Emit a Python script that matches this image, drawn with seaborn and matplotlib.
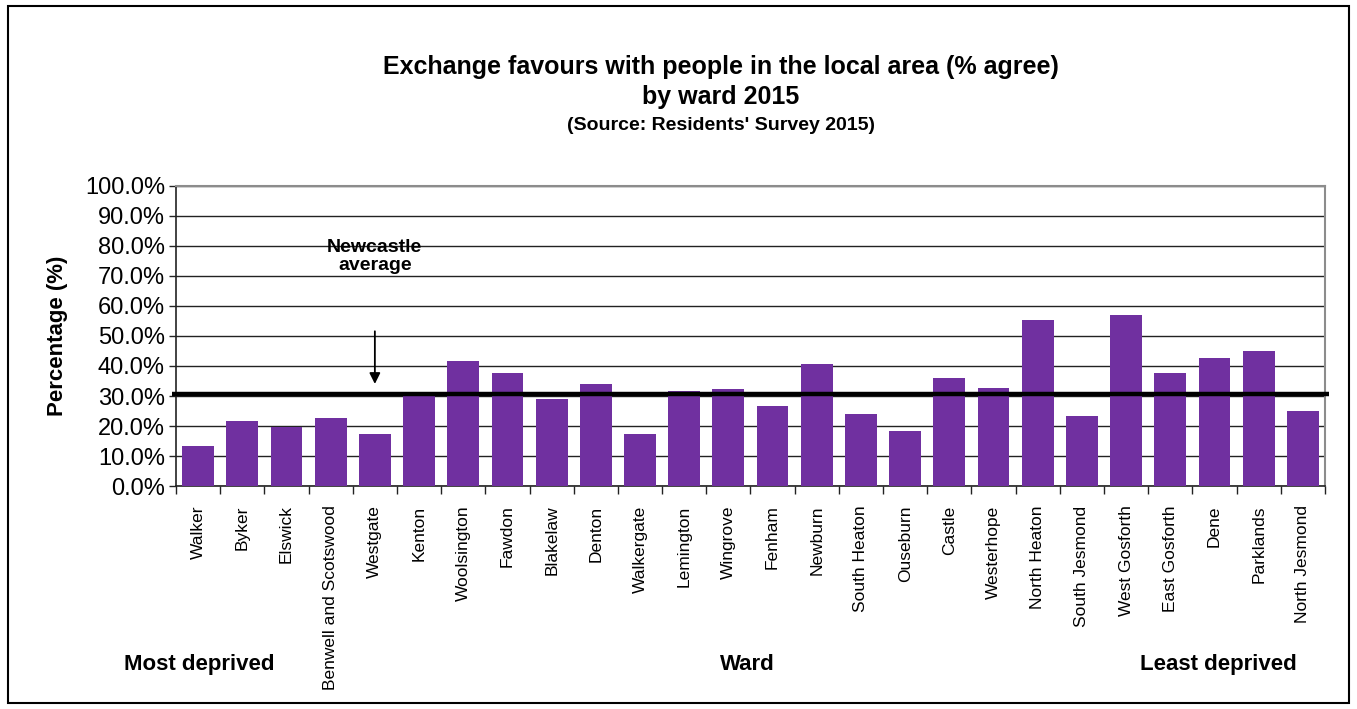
import matplotlib
matplotlib.use("Agg")
import matplotlib.pyplot as plt
import seaborn as sns
import pandas as pd
from matplotlib.ticker import FuncFormatter, MultipleLocator
from matplotlib.patches import Rectangle

wards = ["Walker", "Byker", "Elswick", "Benwell and Scotswood", "Westgate", "Kenton",
         "Woolsington", "Fawdon", "Blakelaw", "Denton", "Walkergate", "Lemington",
         "Wingrove", "Fenham", "Newburn", "South Heaton", "Ouseburn", "Castle",
         "Westerhope", "North Heaton", "South Jesmond", "West Gosforth", "East Gosforth",
         "Dene", "Parklands", "North Jesmond"]
agree_pct = [13.4, 21.7, 19.6, 22.7, 17.3, 30.5, 41.5, 37.6, 29.0, 34.0, 17.3, 31.6,
             32.3, 26.6, 40.8, 24.1, 18.5, 35.9, 32.6, 55.4, 23.4, 57.1, 37.6,
             42.5, 45.1, 24.9]
newcastle_avg = 30.6

df = pd.DataFrame({"Ward": wards, "Agree": agree_pct})

sns.set_theme(style="white")
plt.rcParams["font.family"] = ["Liberation Sans", "DejaVu Sans"]
plt.rcParams.update({"text.color": "black", "axes.labelcolor": "black",
                     "xtick.color": "black", "ytick.color": "black"})

fig = plt.figure(figsize=(13.57, 7.09), dpi=100)
ax = fig.add_axes([0.1297, 0.3145, 0.8467, 0.4232])

sns.barplot(data=df, x="Ward", y="Agree", color="#7030A0", saturation=1,
            width=0.72, linewidth=0, ax=ax, zorder=3)

ax.set_ylim(0, 100)
ax.set_xlim(-0.5, len(wards) - 0.5)
ax.yaxis.set_major_locator(MultipleLocator(10))
ax.yaxis.set_major_formatter(FuncFormatter(lambda v, p: f"{v:.1f}%"))
ax.grid(axis="y", color="#222222", linewidth=1.0, zorder=0)
ax.set_axisbelow(True)

for side in ["top", "right"]:
    ax.spines[side].set_color("#8c8c8c")
    ax.spines[side].set_linewidth(1.5)
for side in ["left", "bottom"]:
    ax.spines[side].set_color("#222222")
    ax.spines[side].set_linewidth(1.2)

ax.tick_params(axis="y", which="major", left=True, length=5, width=1, color="#222222",
               labelsize=17, pad=3, labelcolor="black")
ax.set_xticks(range(len(wards)))
ax.set_xticklabels(wards, rotation=90, fontsize=12.5, va="top", ha="center")
ax.tick_params(axis="x", which="major", bottom=False, pad=8, labelcolor="black")
# boundaries between categories
ax.set_xticks([i - 0.5 for i in range(len(wards) + 1)], minor=True)
ax.tick_params(axis="x", which="minor", bottom=True, length=6, width=1, color="#222222")

ax.set_xlabel("")
ax.set_ylabel("Percentage (%)", fontsize=16, fontweight="bold", labelpad=12,
              color="black")

# Newcastle average
ax.plot([-0.6, len(wards) - 0.4], [newcastle_avg, newcastle_avg], color="black",
        linewidth=3.2, zorder=5, clip_on=False, solid_capstyle="butt")
ax.annotate("", xy=(4.0, newcastle_avg + 2.5), xytext=(4.0, 52.5),
            arrowprops=dict(arrowstyle="-|>", color="black", lw=1.3,
                            mutation_scale=16), zorder=6)
ax.text(4.0, 76.5, "Newcastle\naverage", ha="center", va="center", fontsize=14,
        fontweight="bold", linespacing=1.1, zorder=6, color="black")

fig.text(0.531, 0.905, "Exchange favours with people in the local area (% agree)",
         ha="center", va="center", fontsize=18, fontweight="bold", color="black")
fig.text(0.531, 0.863, "by ward 2015", ha="center", va="center", fontsize=18,
         fontweight="bold", color="black")
fig.text(0.531, 0.823, "(Source: Residents' Survey 2015)", ha="center", va="center",
         fontsize=14, fontweight="bold", color="black")

fig.text(0.147, 0.063, "Most deprived", ha="center", va="center", fontsize=16,
         fontweight="bold", color="black")
fig.text(0.551, 0.063, "Ward", ha="center", va="center", fontsize=16,
         fontweight="bold", color="black")
fig.text(0.898, 0.063, "Least deprived", ha="center", va="center", fontsize=16,
         fontweight="bold", color="black")

fig.patches.append(Rectangle((0.006, 0.008), 0.988, 0.984, transform=fig.transFigure,
                             fill=False, edgecolor="black", linewidth=1.5))

fig.savefig("out.png", dpi=100)
